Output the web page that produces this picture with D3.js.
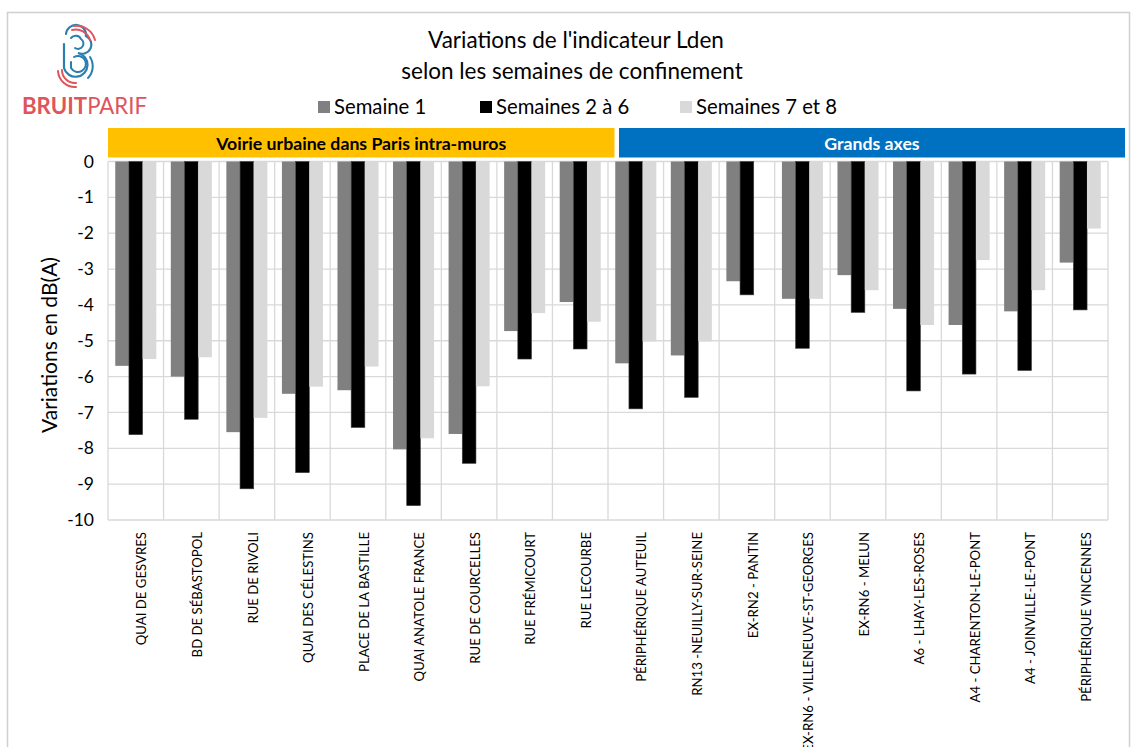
<!DOCTYPE html>
<html><head><meta charset="utf-8">
<script src="https://cdn.jsdelivr.net/npm/d3@7"></script>
<style>html,body{margin:0;padding:0;background:#fff;}svg{display:block;}</style>
</head><body>
<svg id="chart" width="1131" height="747"></svg>
<script>
const categories = ["QUAI DE GESVRES","BD DE SÉBASTOPOL","RUE DE RIVOLI","QUAI DES CÉLESTINS","PLACE DE LA BASTILLE","QUAI ANATOLE FRANCE","RUE DE COURCELLES","RUE FRÉMICOURT","RUE LECOURBE","PÉRIPHÉRIQUE AUTEUIL","RN13 -NEUILLY-SUR-SEINE","EX-RN2 - PANTIN","EX-RN6 - VILLENEUVE-ST-GEORGES","EX-RN6 - MELUN","A6 - LHAY-LES-ROSES","A4 - CHARENTON-LE-PONT","A4 - JOINVILLE-LE-PONT","PÉRIPHÉRIQUE VINCENNES"];
const seriesNames = ["Semaine 1","Semaines 2 à 6","Semaines 7 et 8"];
const semaine1 = [-5.7,-6.0,-7.55,-6.48,-6.38,-8.03,-7.6,-4.73,-3.92,-5.63,-5.41,-3.34,-3.83,-3.17,-4.11,-4.56,-4.18,-2.82];
const semaines2a6 = [-7.62,-7.19,-9.13,-8.68,-7.42,-9.6,-8.42,-5.51,-5.23,-6.9,-6.58,-3.72,-5.21,-4.21,-6.4,-5.93,-5.83,-4.14];
const semaines7et8 = [-5.51,-5.46,-7.15,-6.28,-5.72,-7.72,-6.27,-4.23,-4.47,-5.02,-5.02,null,-3.83,-3.59,-4.56,-2.75,-3.59,-1.87];
const yTicks = [0,-1,-2,-3,-4,-5,-6,-7,-8,-9,-10];
const groupNames = ["Voirie urbaine dans Paris intra-muros","Grands axes"];
const groupSizes = [9,9];
const colors = ["#808080","#000000","#d9d9d9"];

const svg = d3.select("#chart");
const font = "Lato, 'Open Sans', sans-serif";

// outer frame
svg.append("rect").attr("x",7.5).attr("y",12.5).attr("width",1122).attr("height",760)
  .attr("fill","#fff").attr("stroke","#d0d0d0").attr("stroke-width",1.5);

const x0 = d3.scaleBand().domain(categories).range([108,1108]).paddingInner(0).paddingOuter(0);
const x1 = d3.scaleBand().domain([0,1,2]).range([0,x0.bandwidth()]).paddingInner(0).paddingOuter(0.53);
const y = d3.scaleLinear().domain([-10,0]).range([520,161.5]);

// gridlines
const g = svg.append("g");
g.selectAll(".hg").data(yTicks).enter().append("line")
  .attr("x1",108).attr("x2",1108).attr("y1",d=>y(d)).attr("y2",d=>y(d))
  .attr("stroke","#d9d9d9").attr("stroke-width",1.3);
const bounds = categories.map(c=>x0(c)).concat([1108]);
g.selectAll(".vg").data(bounds).enter().append("line")
  .attr("x1",d=>d).attr("x2",d=>d).attr("y1",161.5).attr("y2",520)
  .attr("stroke","#d9d9d9").attr("stroke-width",1.3);

// bars
const series = [semaine1, semaines2a6, semaines7et8];
series.forEach((vals,si)=>{
  svg.append("g").selectAll("rect").data(categories.map((c,i)=>({c,v:vals[i]})).filter(d=>d.v!==null))
    .enter().append("rect")
    .attr("x",d=>x0(d.c)+x1(si))
    .attr("width",x1.bandwidth())
    .attr("y",y(0))
    .attr("height",d=>y(d.v)-y(0))
    .attr("fill",colors[si])
    .attr("stroke",si===1?"#404040":"none").attr("stroke-width",0.6);
});

// y axis labels
const yAxis = d3.axisLeft(y).tickValues(yTicks).tickSize(0).tickPadding(14).tickFormat(d=>String(d));
const ya = svg.append("g").attr("transform","translate(108,0)").call(yAxis);
ya.select(".domain").remove();
ya.selectAll("text").attr("font-family",font).attr("font-size",17.5).attr("fill","#000");

svg.append("text").attr("transform","translate(57,345) rotate(-90)").attr("text-anchor","middle")
  .attr("font-family",font).attr("font-size",21).attr("fill","#000").text("Variations en dB(A)");

// x labels
const xAxis = d3.axisBottom(x0).tickSize(0).tickPadding(0);
const xa = svg.append("g").attr("transform","translate(0,520)").call(xAxis);
xa.select(".domain").remove();
xa.selectAll("text").attr("font-family",font).attr("font-size",13.2).attr("fill","#000")
  .attr("transform","rotate(-90)").attr("text-anchor","end").attr("x",-12).attr("y",6).attr("dy","0.35em");

// group header bands
const bandColors = ["#ffc000","#0070c0"], textColors = ["#000","#fff"];
const bx = [[108,614.5],[619,1125]];
groupNames.forEach((name,i)=>{
  svg.append("rect").attr("x",bx[i][0]).attr("y",128).attr("width",bx[i][1]-bx[i][0]).attr("height",29.5).attr("fill",bandColors[i]);
  svg.append("text").attr("x",(bx[i][0]+bx[i][1])/2).attr("y",149.5).attr("text-anchor","middle")
    .attr("font-family",font).attr("font-weight","bold").attr("font-size",17.7).attr("fill",textColors[i]).text(name);
});

// title
svg.append("text").attr("x",576).attr("y",48).attr("text-anchor","middle").attr("font-family",font).attr("font-size",22.5).attr("fill","#000").text("Variations de l'indicateur Lden");
svg.append("text").attr("x",572).attr("y",79).attr("text-anchor","middle").attr("font-family",font).attr("font-size",22.5).attr("fill","#000").text("selon les semaines de confinement");

// legend
const legX = [318,480,680];
seriesNames.forEach((n,i)=>{
  svg.append("rect").attr("x",legX[i]).attr("y",101).attr("width",12).attr("height",12).attr("fill",colors[i]);
  svg.append("text").attr("x",legX[i]+16).attr("y",114).attr("font-family",font).attr("font-size",20.3).attr("fill","#000").text(n);
});

// logo
const logo = svg.append("g").attr("fill","none").attr("stroke-linecap","round");
const blue = "#2b7fb0", red = "#e0545c";
logo.append("path").attr("d","M66,34 A10,10 0 0 1 86,36 A9,9 0 0 1 78,53 A12,12 0 1 1 64,68 L64,44").attr("stroke",blue).attr("stroke-width",2.2);
logo.append("path").attr("d","M71,38 A6,6 0 0 1 81,39 A5,5 0 0 1 75,48 M74,57 A8,8 0 1 1 71,68 L71,62").attr("stroke",blue).attr("stroke-width",2);
logo.append("path").attr("d","M72,30 A15,15 0 0 1 90,40").attr("stroke",red).attr("stroke-width",2);
logo.append("path").attr("d","M74,26 A19,19 0 0 1 95,40").attr("stroke",red).attr("stroke-width",2);
logo.append("path").attr("d","M90,57 A17,17 0 0 1 88,78").attr("stroke",blue).attr("stroke-width",2);
logo.append("path").attr("d","M58,71 A17,17 0 0 0 76,87").attr("stroke",red).attr("stroke-width",2);
logo.append("path").attr("d","M62,70 A13,13 0 0 0 76,83").attr("stroke",red).attr("stroke-width",2);
logo.append("text").attr("x",22).attr("y",114).attr("font-family",font).attr("font-size",22.2).attr("fill","#e0545c")
  .html('<tspan font-weight="bold">BRUIT</tspan><tspan>PARIF</tspan>');
</script>
</body></html>
